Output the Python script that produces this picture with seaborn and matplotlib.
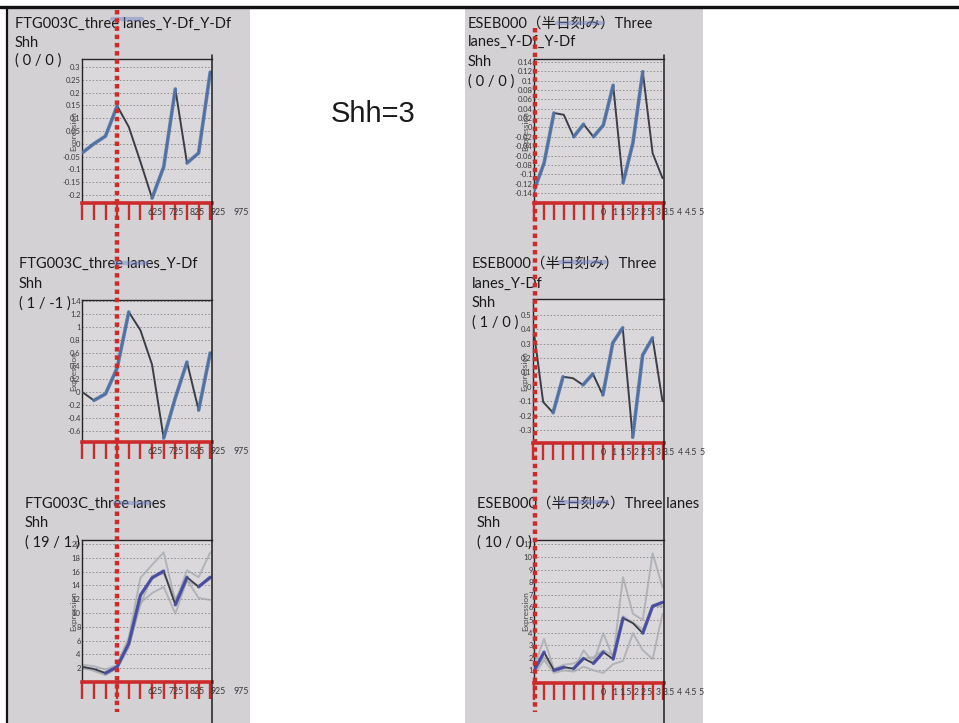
import numpy as np
import pandas as pd
import matplotlib
matplotlib.use("Agg")
import matplotlib.pyplot as plt
from matplotlib.lines import Line2D
from matplotlib.patches import Rectangle
import seaborn as sns

sns.set_theme(style="white")
plt.rcParams["font.family"] = ["Lato", "Noto Sans CJK JP", "DejaVu Sans"]

W, H = 959, 723

# ---------------- data ----------------
# single-profile panels (one value per time point)
ftg_ydf_ydf = [-0.035, 0.0, 0.03, 0.148, 0.066, -0.07, -0.212, -0.09, 0.214, -0.075, -0.036, 0.28]
eseb_ydf_ydf = [-0.133, -0.076, 0.031, 0.027, -0.02, 0.007, -0.02, 0.005, 0.09, -0.118,
                -0.033, 0.119, -0.055, -0.108]
ftg_ydf = [0.0, -0.13, -0.03, 0.37, 1.23, 0.95, 0.42, -0.71, -0.09, 0.46, -0.28, 0.6]
eseb_ydf = [0.417, -0.105, -0.18, 0.07, 0.06, 0.013, 0.09, -0.057, 0.305, 0.41, -0.35,
            0.22, 0.34, -0.1]

# three-lane panels (raw lanes; the bold line is their mean)
ftg_lane_a = [2.5, 2.3, 1.8, 2.5, 6.5, 15.1, 17.0, 18.8, 11.6, 16.2, 15.2, 18.8]
ftg_lane_b = [1.9, 1.8, 1.1, 2.1, 5.3, 11.2, 15.4, 15.7, 12.1, 14.6, 14.0, 14.9]
ftg_lane_c = [2.2, 1.6, 1.0, 2.0, 5.0, 11.5, 12.9, 13.8, 9.9, 14.8, 12.2, 11.9]
eseb_lane_a = [1.3, 3.5, 1.1, 1.3, 1.0, 2.6, 1.6, 3.95, 2.0, 8.4, 5.5, 5.0, 10.3, 7.6]
eseb_lane_b = [1.0, 2.05, 1.1, 1.45, 1.55, 1.95, 2.05, 2.6, 2.2, 5.3, 4.8, 4.25, 6.1, 6.1]
eseb_lane_c = [0.7, 1.8, 0.8, 1.0, 0.9, 1.3, 1.0, 0.8, 1.5, 1.75, 3.95, 2.6, 1.9, 5.5]

# y tick values / labels
yt_ftg_ydf_ydf = [0.3, 0.25, 0.2, 0.15, 0.1, 0.05, 0, -0.05, -0.1, -0.15, -0.2]
yl_ftg_ydf_ydf = ["0.3", "0.25", "0.2", "0.15", "0.1", "0.05", "0", "-0.05", "-0.1", "-0.15", "-0.2"]
yt_eseb_ydf_ydf = [0.14, 0.12, 0.1, 0.08, 0.06, 0.04, 0.02, 0, -0.02, -0.04, -0.06, -0.08, -0.1, -0.12, -0.14]
yl_eseb_ydf_ydf = ["0.14", "0.12", "0.1", "0.08", "0.06", "0.04", "0.02", "0", "-0.02", "-0.04",
                   "-0.06", "-0.08", "-0.1", "-0.12", "-0.14"]
yt_ftg_ydf = [1.4, 1.2, 1.0, 0.8, 0.6, 0.4, 0.2, 0, -0.2, -0.4, -0.6]
yl_ftg_ydf = ["1.4", "1.2", "1", "0.8", "0.6", "0.4", "0.2", "0", "-0.2", "-0.4", "-0.6"]
yt_eseb_ydf = [0.5, 0.4, 0.3, 0.2, 0.1, 0, -0.1, -0.2, -0.3]
yl_eseb_ydf = ["0.5", "0.4", "0.3", "0.2", "0.1", "0", "-0.1", "-0.2", "-0.3"]
yt_ftg_lanes = [2, 4, 6, 8, 10, 12, 14, 16, 18, 20]
yl_ftg_lanes = ["2", "4", "6", "8", "10", "12", "14", "16", "18", "20"]
yt_eseb_lanes = [1, 2, 3, 4, 5, 6, 7, 8, 9, 10, 11]
yl_eseb_lanes = ["1", "2", "3", "4", "5", "6", "7", "8", "9", "10", "11"]

# x-axis labels printed under the tick rugs
xl_ftg = ["625", "725", "825", "925", "975"]
xl_eseb = ["0", "1", "1.5", "2", "2.5", "3", "3.5", "4", "4.5", "5"]

# panel captions
cap_p1 = ["FTG003C_three lanes_Y-Df_Y-Df", "Shh", "( 0 / 0 )"]
cap_p2 = ["ESEB000（半日刻み）Three", "lanes_Y-Df_Y-Df", "Shh", "( 0 / 0 )"]
cap_p3 = ["FTG003C_three lanes_Y-Df", "Shh", "( 1 / -1 )"]
cap_p4 = ["ESEB000（半日刻み）Three", "lanes_Y-Df", "Shh", "( 1 / 0 )"]
cap_p5 = ["FTG003C_three lanes", "Shh", "( 19 / 1 )"]
cap_p6 = ["ESEB000（半日刻み）Three lanes", "Shh", "( 10 / 0 )"]
headline = "Shh=3"

# ---------------- styling ----------------
RED = "#cc2b2b"
COL_BG = "#d3d1d4"
AX_BG = "#dad8db"
UP_STEEL = "#5476ab"
UP_VIOLET = "#4a4ea6"
DOWN_DARK = "#3b3e47"
LANE_GREY = "#a3a8ad"

fig = plt.figure(figsize=(W / 100, H / 100), dpi=100)
fig.patch.set_facecolor("white")


def fx(px):
    return px / W


def fy(py):
    return 1 - py / H


def add_axes(x0, y0, x1, y1):
    return fig.add_axes([fx(x0), fy(y1), (x1 - x0) / W, (y1 - y0) / H])


def trend_line(ax, y, up_color, lw_up, lw_down):
    x = np.arange(len(y))
    base = pd.DataFrame({"t": x, "v": y})
    sns.lineplot(data=base, x="t", y="v", ax=ax, color=DOWN_DARK, lw=lw_down,
                 estimator=None, sort=False, zorder=3)
    rows, run = [], -1
    for i in range(len(y) - 1):
        if y[i + 1] > y[i]:
            if i == 0 or not (y[i] > y[i - 1]):
                run += 1
                rows.append((run, x[i], y[i]))
            rows.append((run, x[i + 1], y[i + 1]))
    up = pd.DataFrame(rows, columns=["run", "t", "v"])
    sns.lineplot(data=up, x="t", y="v", units="run", estimator=None, ax=ax,
                 color=up_color, lw=lw_up, alpha=0.9, sort=False, zorder=4)


def lanes_plot(ax, lanes):
    n = len(lanes[0])
    long = pd.DataFrame({
        "lane": np.repeat(np.arange(len(lanes)), n),
        "t": np.tile(np.arange(n), len(lanes)),
        "v": np.concatenate(lanes),
    })
    sns.lineplot(data=long, x="t", y="v", units="lane", estimator=None, ax=ax,
                 color=LANE_GREY, lw=1.4, alpha=0.75, sort=False, zorder=2)
    mean = long.groupby("t")["v"].mean().to_numpy()
    trend_line(ax, mean, UP_VIOLET, 2.4, 1.3)


def style(ax, n, ylim, yticks, ylabels, xlabels, xpos):
    ax.set_facecolor(AX_BG)
    ax.set_xlim(-0.02, n - 1 + 0.15)
    ax.set_ylim(*ylim)
    ax.set_yticks(yticks)
    ax.set_yticklabels(ylabels, fontsize=5.5, color="#3a3a3a")
    ax.tick_params(axis="y", length=0, pad=1)
    ax.set_xticks(np.arange(n))
    ax.set_xticklabels([])
    ax.tick_params(axis="x", bottom=True, direction="out", length=12, width=1.7,
                   color=RED, labelbottom=False)
    ax.grid(axis="y", color="#8d8d8d", ls=(0, (1.5, 2)), lw=0.7)
    ax.grid(axis="x", visible=False)
    ax.spines["bottom"].set_color(RED)
    ax.spines["bottom"].set_linewidth(2.6)
    ax.spines["right"].set_visible(False)
    for s in ("top", "left"):
        ax.spines[s].set_color("#262626")
        ax.spines[s].set_linewidth(1.0)
    ax.set_xlabel("")
    ax.set_ylabel("Expression", fontsize=6, color="#4a4a4a")
    ax.yaxis.set_label_coords(-0.035, 0.5)
    h_px = ax.get_position().height * H
    for lab, p in zip(xlabels, xpos):
        ax.text(p, -9.5 / h_px, lab, transform=ax.get_xaxis_transform(), fontsize=6.3,
                color="#3a3a3a", ha="center", va="center", clip_on=False)


def caption(x, baselines, lines):
    for b, t in zip(baselines, lines):
        fig.text(fx(x), fy(b), t, fontsize=10.5, color="#1a1a1a", va="baseline", ha="left")


# column backgrounds
fig.add_artist(Rectangle((fx(8), 0), (250 - 8) / W, fy(8), transform=fig.transFigure,
                         facecolor=COL_BG, edgecolor="none", zorder=-2))
fig.add_artist(Rectangle((fx(465), 0), (703 - 465) / W, fy(8), transform=fig.transFigure,
                         facecolor=COL_BG, edgecolor="none", zorder=-2))

ftg_xpos = [6.3, 8.05, 9.85, 11.7, 13.7]
eseb_xpos = [7.05 + 1.1 * i for i in range(len(xl_eseb))]

# top row
ax1 = add_axes(82, 59, 212, 203)
trend_line(ax1, ftg_ydf_ydf, UP_STEEL, 2.6, 1.4)
style(ax1, 12, (-0.231, 0.331), yt_ftg_ydf_ydf, yl_ftg_ydf_ydf, xl_ftg, ftg_xpos)

ax2 = add_axes(534, 59, 664, 203)
trend_line(ax2, eseb_ydf_ydf, UP_STEEL, 2.6, 1.4)
style(ax2, 14, (-0.161, 0.146), yt_eseb_ydf_ydf, yl_eseb_ydf_ydf, xl_eseb, eseb_xpos)

# middle row
ax3 = add_axes(82, 300, 212, 442)
trend_line(ax3, ftg_ydf, UP_STEEL, 2.6, 1.4)
style(ax3, 12, (-0.77, 1.415), yt_ftg_ydf, yl_ftg_ydf, xl_ftg, ftg_xpos)

ax4 = add_axes(533, 299, 664, 443)
trend_line(ax4, eseb_ydf, UP_STEEL, 2.6, 1.4)
style(ax4, 14, (-0.39, 0.61), yt_eseb_ydf, yl_eseb_ydf, xl_eseb, eseb_xpos)

# bottom row
ax5 = add_axes(82, 540, 212, 682)
lanes_plot(ax5, [ftg_lane_a, ftg_lane_b, ftg_lane_c])
style(ax5, 12, (0, 20.6), yt_ftg_lanes, yl_ftg_lanes, xl_ftg, ftg_xpos)

ax6 = add_axes(534, 540, 664, 683)
lanes_plot(ax6, [eseb_lane_a, eseb_lane_b, eseb_lane_c])
style(ax6, 14, (0, 11.35), yt_eseb_lanes, yl_eseb_lanes, xl_eseb, eseb_xpos)

# captions
caption(15, [28, 47, 65], cap_p1)
caption(468, [28, 46, 66, 86], cap_p2)
caption(19, [268, 288, 308], cap_p3)
caption(472, [268, 288, 307, 327], cap_p4)
caption(25, [508, 527, 547], cap_p5)
caption(477, [508, 527, 547], cap_p6)

fig.text(fx(331), fy(122), headline, fontsize=21, color="#1a1a1a",
         family=["Liberation Sans", "DejaVu Sans"], va="baseline", ha="left")

# faint blue selection marks over the captions
for (xa, xb, yy) in [(112, 142, 19), (557, 603, 23), (115, 147, 263),
                     (560, 605, 262), (115, 150, 503), (560, 607, 502)]:
    fig.add_artist(Line2D([fx(xa), fx(xb)], [fy(yy), fy(yy)], transform=fig.transFigure,
                          color="#6f80c8", lw=3.0, alpha=0.45, solid_capstyle="round", zorder=6))

# long right-hand rules of each column
for xx in (212, 664):
    fig.add_artist(Line2D([fx(xx), fx(xx)], [fy(55), fy(723)], transform=fig.transFigure,
                          color="#1e1e1e", lw=1.1, zorder=7))

# outer frame
fig.add_artist(Line2D([0, 1], [fy(7), fy(7)], transform=fig.transFigure,
                      color="#111111", lw=2.4, zorder=8))
fig.add_artist(Line2D([fx(7), fx(7)], [fy(7), 0], transform=fig.transFigure,
                      color="#111111", lw=1.6, zorder=8))

# red dotted time markers
for xx, y0 in ((117, 10), (535, 28)):
    fig.add_artist(Line2D([fx(xx), fx(xx)], [fy(y0), fy(712)], transform=fig.transFigure,
                          color=RED, lw=3.2, ls=(0, (1.0, 0.85)), zorder=10))

fig.savefig("out.png", dpi=100)
